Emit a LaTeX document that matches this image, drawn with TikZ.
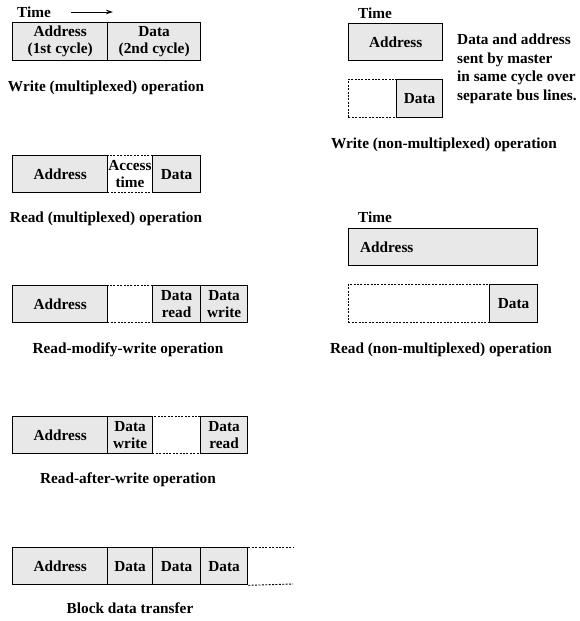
\documentclass[tikz,border=0pt]{standalone}
\usepackage{fontspec}
\setmainfont{Liberation Serif}
\usetikzlibrary{arrows.meta}
\begin{document}
\begin{tikzpicture}[x=1pt,y=-1pt,
  every node/.style={font=\bfseries\fontsize{15.3}{17}\selectfont, inner sep=0pt},
  cell/.style={draw, line width=1.3pt, fill=black!9, anchor=north west, align=center, minimum height=37pt},
  gap/.style={draw, line width=0.9pt, dash pattern=on 2pt off 1.4pt, anchor=north west, align=center, minimum height=37pt},
  lbl/.style={anchor=west},
  captxt/.style={anchor=base}]
\useasboundingbox (0,0) rectangle (580,621);

% Write (multiplexed)
\node[lbl] (t1) at (17,12) {Time};
\coordinate (ar1) at (71,12);
\coordinate (ar2) at (113,12);
\draw[line width=0.9pt,-{Stealth[length=7pt,width=4.5pt]}] (ar1) -- (ar2);
\node[cell, minimum width=95pt, minimum height=38pt] (w1a) at (12,22) {Address\\(1st cycle)};
\node[cell, minimum width=93pt, minimum height=38pt] (w1d) at (107,22) {Data\\(2nd cycle)};
\node[captxt] (c1) at (106,91) {Write (multiplexed) operation};

% Read (multiplexed)
\node[gap, minimum width=45pt] (r2t) at (107,155) {Access\\time};
\node[cell, minimum width=95pt] (r2a) at (12,155) {Address};
\node[cell, minimum width=48pt] (r2d) at (152,155) {Data};
\node[captxt] (c2) at (106,222) {Read (multiplexed) operation};

% Read-modify-write
\node[gap, minimum width=45pt] (m3g) at (107,285) {};
\node[cell, minimum width=95pt] (m3a) at (12,285) {Address};
\node[cell, minimum width=48pt] (m3r) at (152,285) {Data\\read};
\node[cell, minimum width=47pt] (m3w) at (200,285) {Data\\write};
\node[captxt] (c3) at (128,353) {Read-modify-write operation};

% Read-after-write
\node[gap, minimum width=48pt] (a4g) at (152,416) {};
\node[cell, minimum width=95pt] (a4a) at (12,416) {Address};
\node[cell, minimum width=45pt] (a4w) at (107,416) {Data\\write};
\node[cell, minimum width=47pt] (a4r) at (200,416) {Data\\read};
\node[captxt] (c4) at (128,483) {Read-after-write operation};

% Block data transfer
\node[cell, minimum width=95pt] (b5a) at (12,547) {Address};
\node[cell, minimum width=45pt] (b5d1) at (107,547) {Data};
\node[cell, minimum width=48pt] (b5d2) at (152,547) {Data};
\node[cell, minimum width=47pt] (b5d3) at (200,547) {Data};
\coordinate (b5e1) at (293,547);
\coordinate (b5e2) at (293,584);
\draw[line width=0.9pt, dash pattern=on 2pt off 1.4pt] (b5d3.north east) -- (b5e1);
\draw[line width=0.9pt, dash pattern=on 2pt off 1.4pt] (b5d3.south east) -- (b5e2);
\node[captxt] (c5) at (130,613) {Block data transfer};

% Write (non-multiplexed)
\node[lbl] (t2) at (358,13) {Time};
\node[cell, minimum width=94pt] (nwa) at (348,23) {Address};
\node[gap, minimum width=48pt, minimum height=38pt] (nwg) at (348,79) {};
\node[cell, minimum width=46pt, minimum height=38pt] (nwd) at (396,79) {Data};
\node[anchor=north west, align=left, font=\bfseries\fontsize{15.3}{18.5}\selectfont] (nwt) at (457,34) {Data and address\\sent by master\\in same cycle over\\separate bus lines.};
\node[captxt] (c6) at (444,148) {Write (non-multiplexed) operation};

% Read (non-multiplexed)
\node[lbl] (t3) at (358,217) {Time};
\node[cell, minimum width=189pt, text width=166pt, align=left] (nra) at (348,228) {Address};
\node[gap, minimum width=141pt, minimum height=38pt] (nrg) at (348,284) {};
\node[cell, minimum width=48pt, minimum height=38pt] (nrd) at (489,284) {Data};
\node[captxt] (c7) at (441,353) {Read (non-multiplexed) operation};
\end{tikzpicture}
\end{document}
